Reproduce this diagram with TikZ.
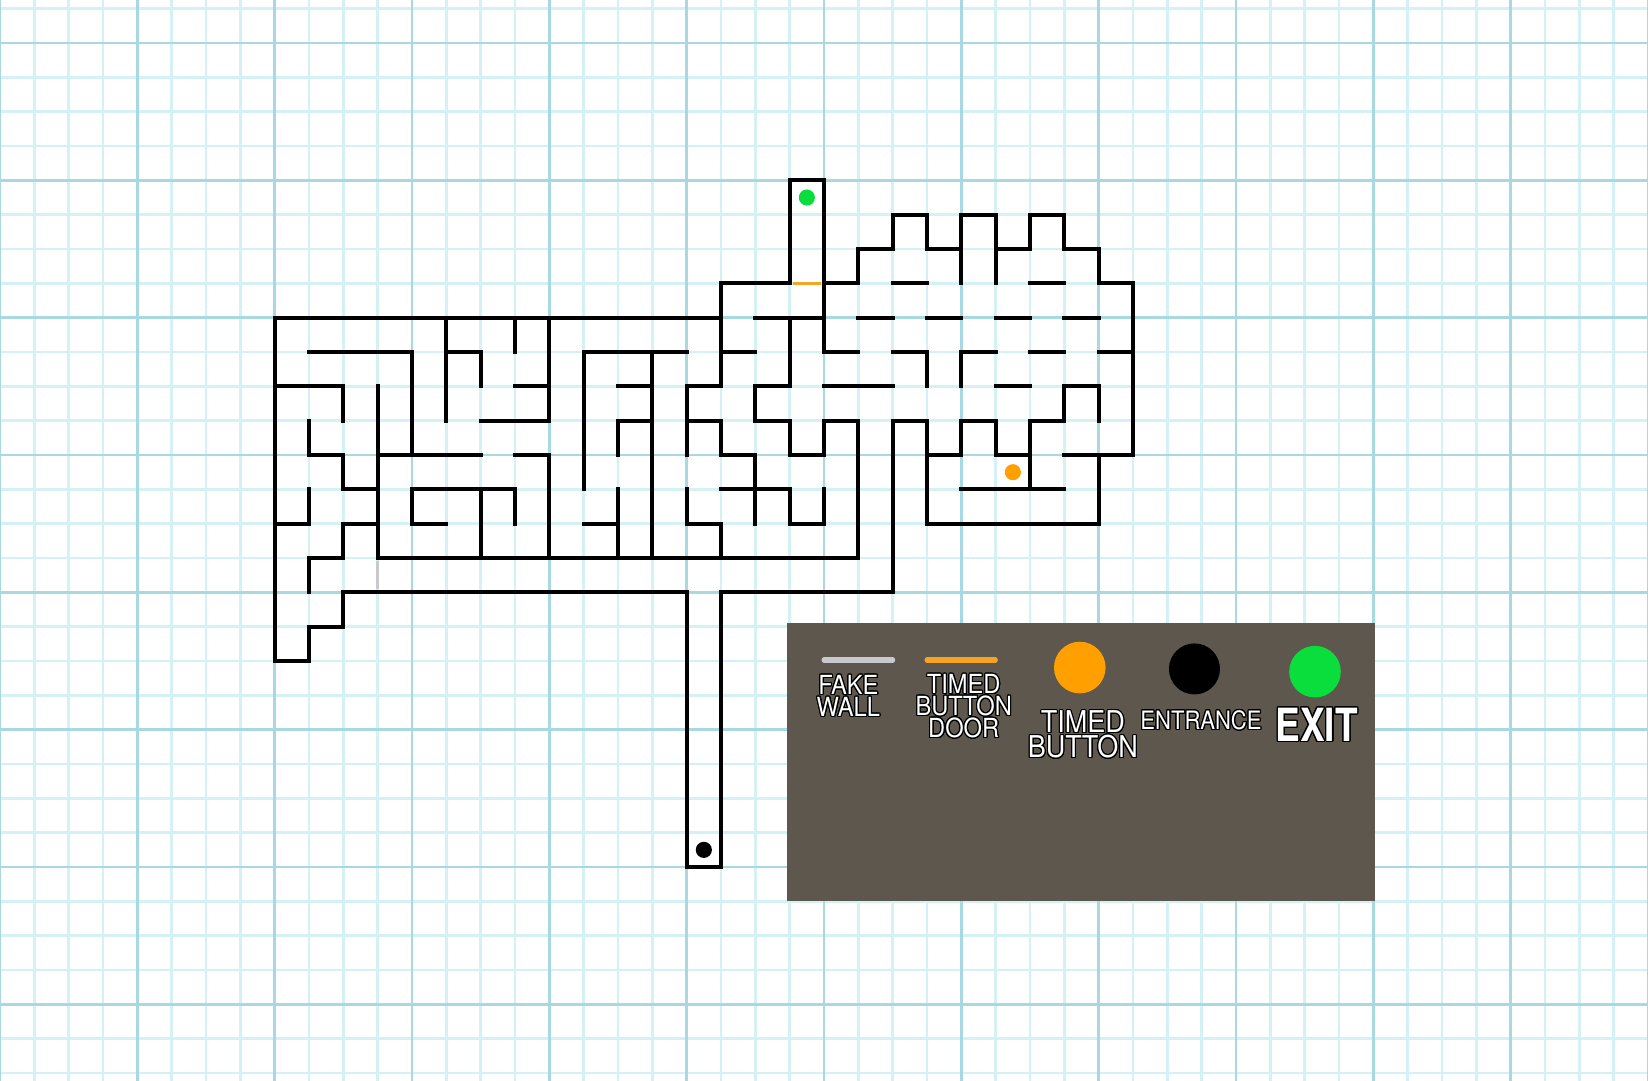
\documentclass[tikz,border=0pt]{standalone}
\usepackage{fontspec}
\usepackage[copies]{contour}
\newfontfamily\legA[FakeStretch=0.9]{TeX Gyre Heros}
\newfontfamily\legB[FakeStretch=0.87]{TeX Gyre Heros}
\newfontfamily\legC[FakeStretch=0.81]{TeX Gyre Heros}
\contourlength{0.9pt}
\contournumber{24}
\definecolor{minorgrid}{RGB}{212,242,246}
\definecolor{majorgrid}{RGB}{168,216,226}
\definecolor{legbg}{RGB}{94,87,78}
\definecolor{doororange}{RGB}{245,165,35}
\definecolor{btnorange}{RGB}{255,160,0}
\definecolor{exitgreen}{RGB}{10,222,60}
\definecolor{fakegray}{RGB}{200,200,206}
\begin{document}
\begin{tikzpicture}[x=1cm,y=-1cm,
  wall/.style={line width=3.2pt, line cap=rect, line join=miter, black},
  minorline/.style={line width=2.3pt, minorgrid},
  majorline/.style={line width=2.1pt, majorgrid},
  legtext/.style={text=white, inner sep=0pt, align=center}]
% background
\fill[white] (0,-0.2534) rectangle (48,31.205);
\useasboundingbox (0,-0.2534) rectangle (48,31.205);
% grid
\foreach \c in {0,...,48} \draw[minorline] (\c,-0.3) -- (\c,31.3);
\foreach \r in {0,...,31} \draw[minorline] (-0.1,\r) -- (48.1,\r);
\foreach \c in {0,4,...,48} \draw[majorline] (\c,-0.3) -- (\c,31.3);
\foreach \r in {1,5,...,29} \draw[majorline] (-0.1,\r) -- (48.1,\r);
% special walls
\draw[line width=2.4pt, fakegray] (11,16.1) -- (11,16.9);
\draw[line width=2.6pt, doororange] (23.1,8) -- (23.9,8);
% maze walls
\draw[wall] (9,19) -- (8,19) -- (8,9) -- (21,9);
\draw[wall] (9,19) -- (9,18) -- (10,18) -- (10,17) -- (20,17) -- (20,25) -- (21,25) -- (21,17) -- (26,17) -- (26,12) -- (27,12) -- (27,15) -- (32,15) -- (32,13);
\draw[wall] (31,13) -- (33,13) -- (33,8) -- (32,8) -- (32,7) -- (31,7) -- (31,6) -- (30,6) -- (30,7) -- (29,7) -- (29,6) -- (28,6) -- (28,7) -- (27,7) -- (27,6) -- (26,6) -- (26,7) -- (25,7) -- (25,8) -- (24,8);
\draw[wall] (23,8) -- (21,8) -- (21,11) -- (20,11) -- (20,13);
\draw[wall] (23,8) -- (23,5) -- (24,5) -- (24,10) -- (25,10);
\draw[wall] (11,11) -- (11,16) -- (25,16) -- (25,12) -- (24,12) -- (24,13) -- (23,13) -- (23,12) -- (22,12) -- (22,11) -- (23,11) -- (23,9);
\draw[wall] (22,9) -- (24,9);
% left part
\draw[wall] (9,10) -- (12,10) -- (12,13);
\draw[wall] (13,9) -- (13,12);
\draw[wall] (13,10) -- (14,10) -- (14,11);
\draw[wall] (15,9) -- (15,10);
\draw[wall] (16,9) -- (16,12) -- (14,12);
\draw[wall] (15,11) -- (16,11);
\draw[wall] (8,11) -- (10,11) -- (10,12);
\draw[wall] (9,12) -- (9,13) -- (10,13) -- (10,14) -- (11,14);
\draw[wall] (11,13) -- (14,13);
\draw[wall] (9,14) -- (9,15) -- (8,15);
\draw[wall] (15,14) -- (12,14) -- (12,15) -- (13,15);
\draw[wall] (15,14) -- (15,15);
\draw[wall] (14,14) -- (14,16);
\draw[wall] (11,15) -- (10,15) -- (10,16) -- (9,16) -- (9,17);
\draw[wall] (15,13) -- (16,13) -- (16,16);
% middle part
\draw[wall] (17,14) -- (17,10) -- (20,10);
\draw[wall] (19,10) -- (19,16);
\draw[wall] (18,11) -- (19,11);
\draw[wall] (18,13) -- (18,12) -- (19,12);
\draw[wall] (20,12) -- (21,12) -- (21,13) -- (22,13) -- (22,15);
\draw[wall] (21,10) -- (22,10);
\draw[wall] (21,14) -- (23,14) -- (23,15) -- (24,15) -- (24,14);
\draw[wall] (20,14) -- (20,15) -- (21,15) -- (21,16);
\draw[wall] (18,14) -- (18,16);
\draw[wall] (17,15) -- (18,15);
\draw[wall] (24,11) -- (26,11);
% right part
\draw[wall] (26,8) -- (27,8);
\draw[wall] (30,8) -- (31,8);
\draw[wall] (25,9) -- (26,9);
\draw[wall] (27,9) -- (28,9);
\draw[wall] (29,9) -- (30,9);
\draw[wall] (31,9) -- (32,9);
\draw[wall] (26,10) -- (27,10) -- (27,11);
\draw[wall] (28,11) -- (28,10) -- (29,10);
\draw[wall] (30,10) -- (31,10);
\draw[wall] (32,10) -- (33,10);
\draw[wall] (29,11) -- (30,11);
\draw[wall] (32,12) -- (32,11) -- (31,11) -- (31,12) -- (30,12) -- (30,14);
\draw[wall] (27,13) -- (28,13) -- (28,12) -- (29,12) -- (29,13) -- (30,13);
\draw[wall] (28,14) -- (31,14);
\draw[wall] (28,7) -- (28,8);
\draw[wall] (29,7) -- (29,8);
% dots
\fill[exitgreen] (23.5,5.5) circle [radius=0.235];
\fill[black] (20.5,24.5) circle [radius=0.235];
\fill[btnorange] (29.5,13.5) circle [radius=0.235];
% legend
\fill[legbg] (22.93,17.9) rectangle (40.05,25.98);
\draw[line width=4.2pt, line cap=round, fakegray] (24.0,18.97) -- (26.0,18.97);
\draw[line width=4.2pt, line cap=round, doororange] (27.0,18.97) -- (28.99,18.97);
\fill[btnorange] (31.45,19.19) circle [radius=0.752];
\fill[black] (34.79,19.23) circle [radius=0.743];
\fill[exitgreen] (38.30,19.31) circle [radius=0.752];
\node[legtext, font=\legA\fontsize{21.8}{18.2}\selectfont] (fake) at (24.71,20.03) {\contour{black}{FAKE}\\\contour{black}{WALL}};
\node[legtext, font=\legA\fontsize{21.8}{18.2}\selectfont] (door) at (28.07,20.33) {\contour{black}{TIMED}\\\contour{black}{BUTTON}\\\contour{black}{DOOR}};
\node[legtext, font=\legA\fontsize{24.9}{20.6}\selectfont] (button) at (31.54,21.16) {\contour{black}{TIMED}\\\contour{black}{BUTTON}};
\node[legtext, font=\legB\fontsize{21}{21}\selectfont] (entr) at (34.98,20.74) {\contour{black}{ENTRANCE}};
\node[legtext, font=\legC\bfseries\fontsize{37.9}{37.9}\selectfont] (exit) at (38.35,20.87) {\contour{black}{EXIT}};
\end{tikzpicture}
\end{document}
